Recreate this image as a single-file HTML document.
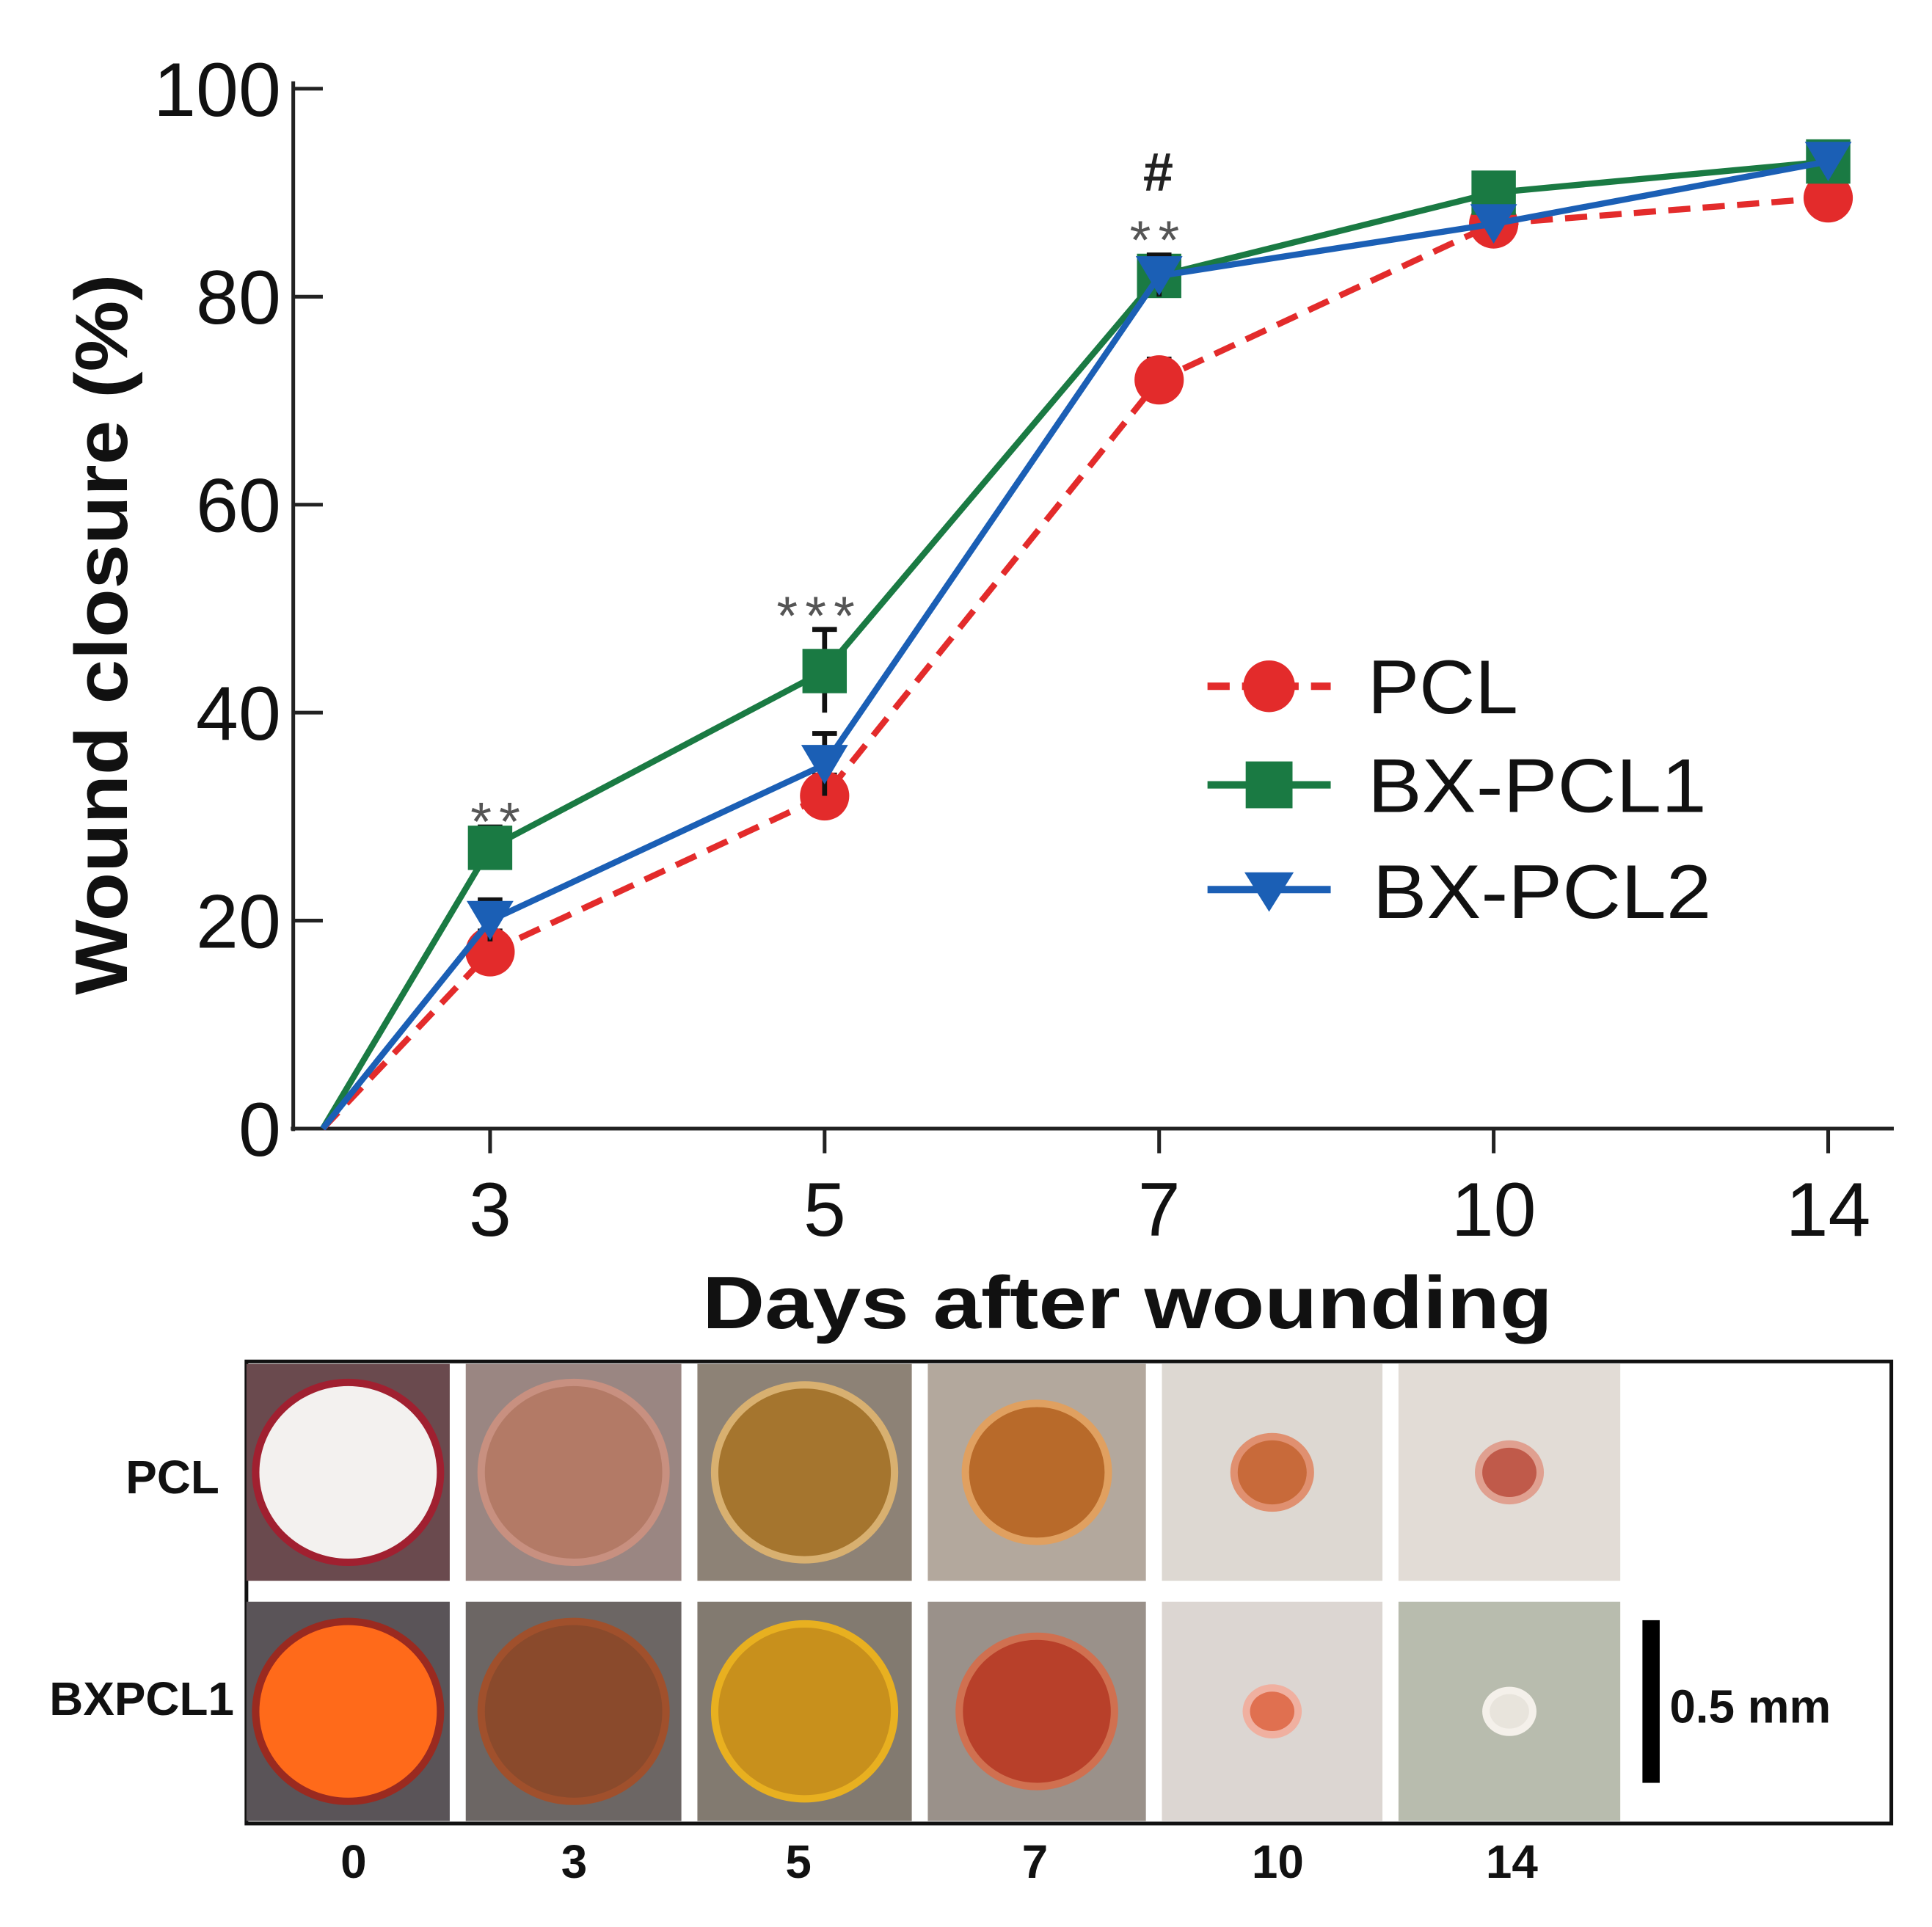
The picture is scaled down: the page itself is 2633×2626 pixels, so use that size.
<!DOCTYPE html>
<html><head><meta charset="utf-8"><style>
html,body{margin:0;padding:0;background:#fff;}
svg{display:block;}
text{font-family:"Liberation Sans","DejaVu Sans",sans-serif;}
</style></head><body>
<svg id="chart" width="2633" height="2626" viewBox="0 0 1568 1564" preserveAspectRatio="none" xmlns="http://www.w3.org/2000/svg">
<rect width="1568" height="1564" fill="#fff"/>
<g id="axes"></g>
<g id="series"></g>
<text transform="translate(103,515) rotate(-90)" text-anchor="middle" font-size="60" font-weight="bold" fill="#111" textLength="585" lengthAdjust="spacingAndGlyphs">Wound closure (%)</text>
<text x="915" y="1078" text-anchor="middle" font-size="60" font-weight="bold" fill="#111" textLength="690" lengthAdjust="spacingAndGlyphs">Days after wounding</text>
<g fill="#555" font-size="44">
<text x="405" y="682" text-anchor="middle" letter-spacing="6">**</text>
<text x="665" y="515" text-anchor="middle" letter-spacing="6">***</text>
<text x="940" y="210" text-anchor="middle" letter-spacing="6">**</text>
<text x="940" y="155" text-anchor="middle" font-weight="bold" fill="#222">#</text>
</g>
<g>
<g><line x1="980" y1="557" x2="1080" y2="557" stroke="#e32b2b" stroke-width="6" stroke-dasharray="18,10"/><circle cx="1030" cy="557" r="21" fill="#e32b2b"/><text x="1110" y="579" font-size="62" fill="#111" textLength="122" lengthAdjust="spacingAndGlyphs">PCL</text></g>
<g><line x1="980" y1="637" x2="1080" y2="637" stroke="#1a7a43" stroke-width="6"/><rect x="1011" y="618" width="38" height="38" fill="#1a7a43"/><text x="1110" y="659" font-size="62" fill="#111" textLength="275" lengthAdjust="spacingAndGlyphs">BX-PCL1</text></g>
<g><line x1="980" y1="722" x2="1080" y2="722" stroke="#1b5fb5" stroke-width="6"/><path d="M1010,708 L1050,708 L1030,740 Z" fill="#1b5fb5"/><text x="1114" y="745" font-size="62" fill="#111" textLength="275" lengthAdjust="spacingAndGlyphs">BX-PCL2</text></g>
</g>
<g id="photos"></g>
</svg>
<script>
const days = ["0","3","5","7","10","14"];
const pcl = [0,17,32,72,87,89.5];
const bx1 = [0,27,44,82,90,93];
const bx2 = [0,20,35,82,87,93];
const pclErr = [0,2,2,2,1,1];
const bx1Err = [0,2,4,2,1,1];
const bx2Err = [0,2,3,2,1,1];
const yTicks = [0,20,40,60,80,100];

const NS="http://www.w3.org/2000/svg";
function mk(tag,attrs,parent){const e=document.createElementNS(NS,tag);for(const k in attrs)e.setAttribute(k,attrs[k]);parent.appendChild(e);return e;}
const X0=262, XS=271.5, Y0=916, YK=8.44;
const xs=i=>X0+(i===0?0:(i-0.5)*XS);
const ys=v=>Y0-v*YK;

const axes=document.getElementById('axes');
let a=mk('line',{x1:238,y1:66,x2:238,y2:918,stroke:'#222','stroke-width':3},axes);

a=mk('line',{x1:236,y1:916,x2:1537,y2:916,stroke:'#222','stroke-width':3},axes);

yTicks.forEach(t=>{
  const l=mk('line',{x1:238,y1:ys(t),x2:262,y2:ys(t),stroke:'#222','stroke-width':3},axes);
  
  const tx=mk('text',{x:228,y:ys(t)+22,'text-anchor':'end','font-size':62,fill:'#111'},axes);
  tx.textContent=t;
  
});
days.forEach((d,i)=>{
  if(i===0)return;
  const l=mk('line',{x1:xs(i),y1:916,x2:xs(i),y2:936,stroke:'#222','stroke-width':3},axes);
  
  const tx=mk('text',{x:xs(i),y:1003,'text-anchor':'middle','font-size':62,fill:'#111'},axes);
  tx.textContent=d;
  
});

const ser=document.getElementById('series');
function drawSeries(vals,errs,color,dash,shape,name){
  const g=mk('g',{},ser);
  
  
  vals.forEach((v,i)=>{ if(errs[i]>0){
    const e=mk('line',{x1:xs(i),y1:ys(v+errs[i]),x2:xs(i),y2:ys(v-errs[i]),stroke:'#111','stroke-width':4},g);
    
    mk('line',{x1:xs(i)-10,y1:ys(v+errs[i]),x2:xs(i)+10,y2:ys(v+errs[i]),stroke:'#111','stroke-width':4},g);
  }});
  const p=mk('polyline',{points:vals.map((v,i)=>xs(i)+','+ys(v)).join(' '),fill:'none',stroke:color,'stroke-width':5,'stroke-dasharray':dash},g);
  
  vals.forEach((v,i)=>{ if(i===0)return; let m;
    const x=xs(i),y=ys(v);
    if(shape==='circle') m=mk('circle',{cx:x,cy:y,r:20,fill:color},g);
    else if(shape==='square') m=mk('rect',{x:x-18,y:y-18,width:36,height:36,fill:color},g);
    else m=mk('path',{d:`M${x-19},${y-16} L${x+19},${y-16} L${x},${y+16} Z`,fill:color},g);
    
  });
}
drawSeries(pcl,pclErr,'#e32b2b','18,10','circle','pcl');
drawSeries(bx1,bx1Err,'#1a7a43','none','square','bx-pcl1');
drawSeries(bx2,bx2Err,'#1b5fb5','none','tri','bx-pcl2');

const ph=document.getElementById('photos');
let b=mk('rect',{x:200,y:1105,width:1335,height:375,fill:'none',stroke:'#111','stroke-width':3},ph);

const cols=[[200,365],[378,553],[566,740],[753,930],[943,1122],[1135,1315]];
const rows=[[1107,1283],[1300,1478]];
const bg=[['#6a4a4e','#9a8682','#8d8276','#b3a89d','#ddd8d2','#e2dcd6'],['#5a5458','#6c6664','#827a70','#9a918a','#dcd6d2','#b8bcae']];
const wound=[[['#f3f1ef',72],['#b37a66',72],['#a5752e',70],['#b86a2a',55],['#c86a3a',28],['#c05a4a',22]],
             [['#ff6a1a',72],['#8a4a2c',72],['#c8901c',70],['#b8402a',60],['#e07050',18],['#e8e4dc',16]]];
const ring=[['#a02030','#c89080','#d8b070','#e0a060','#e09070','#e0a090'],['#9a2a20','#a0502c','#e8b020','#d07050','#f0b0a0','#f4f0ea']];
rows.forEach((r,ri)=>cols.forEach((c,ci)=>{
  const w=c[1]-c[0],h=r[1]-r[0],cx=(c[0]+c[1])/2,cy=(r[0]+r[1])/2;
  const t=mk('rect',{x:c[0],y:r[0],width:w,height:h,fill:bg[ri][ci]},ph);
  
  const rr=wound[ri][ci][1];
  mk('ellipse',{cx:cx,cy:cy,rx:rr+6,ry:rr+4,fill:ring[ri][ci]},ph);
  mk('ellipse',{cx:cx,cy:cy,rx:rr,ry:rr-2,fill:wound[ri][ci][0]},ph);
}));
[['PCL',140,1212],['BXPCL1',115,1392]].forEach(l=>{
  const t=mk('text',{x:l[1],y:l[2],'text-anchor':'middle','font-size':38,'font-weight':'bold',fill:'#111'},ph);
  t.textContent=l[0];
});
const bx=[287,466,648,840,1037,1227];
days.forEach((d,i)=>{
  const t=mk('text',{x:bx[i],y:1524,'text-anchor':'middle','font-size':38,'font-weight':'bold',fill:'#111'},ph);
  t.textContent=d;
});
const sb=mk('rect',{x:1333,y:1315,width:14,height:132,fill:'#000'},ph);

const st=mk('text',{x:1355,y:1398,'font-size':38,'font-weight':'bold',fill:'#111'},ph);
st.textContent='0.5 mm';
</script>
</body></html>
